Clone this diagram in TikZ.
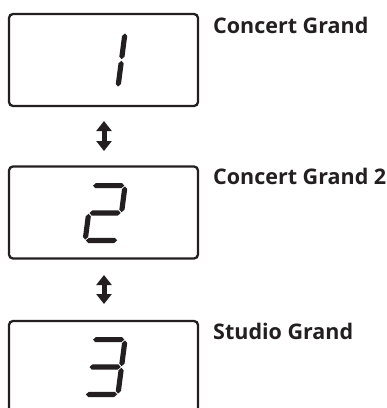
\documentclass[tikz,border=0pt]{standalone}
\usepackage{fontspec}
\setmainfont{Open Sans}
\usetikzlibrary{arrows.meta}
\definecolor{ink}{HTML}{231F20}
\newcommand\hsg[3]{\fill[ink] (#2,#1) -- ({#2+2.6},{#1-2.6}) -- ({#3-2.6},{#1-2.6}) -- (#3,#1) -- ({#3-2.6},{#1+2.6}) -- ({#2+2.6},{#1+2.6}) -- cycle;}
\newcommand\vsg[3]{\fill[ink] (#1,#2) -- ({#1+2.6},{#2+2.6}) -- ({#1+2.6},{#3-2.6}) -- (#1,#3) -- ({#1-2.6},{#3-2.6}) -- ({#1-2.6},{#2+2.6}) -- cycle;}
% segments of a 7-segment digit, W=38, H=60
\newcommand\sgA{\hsg{2.6}{3.4}{34.6}}
\newcommand\sgB{\vsg{35.4}{3.4}{29.2}}
\newcommand\sgC{\vsg{35.4}{30.8}{56.6}}
\newcommand\sgD{\hsg{57.4}{3.4}{34.6}}
\newcommand\sgE{\vsg{2.6}{30.8}{56.6}}
\newcommand\sgG{\hsg{30}{3.4}{34.6}}
\begin{document}
\begin{tikzpicture}[x=1pt,y=-1pt,
  box/.style={draw=ink,line width=2.3pt,rounded corners=4pt,minimum width=189pt,minimum height=92pt,inner sep=0pt},
  lbl/.style={anchor=base west,inner sep=0pt,text=ink,font=\fontsize{21.5}{21.5}\selectfont\bfseries},
  dblarrow/.style={draw=ink,line width=5pt,{Triangle[length=10pt,width=15pt]}-{Triangle[length=10pt,width=15pt]}},
  digit/.style={xslant=0.13}]
\useasboundingbox (0,0) rectangle (387,408);
\node[box] (b1) at (103.5,60) {};
\node[box] (b2) at (103.5,212.5) {};
\node[box] (b3) at (103.5,367) {};
\node[lbl] (t1) at (213,33) {Concert Grand};
\node[lbl] (t2) at (213,184) {Concert Grand 2};
\node[lbl] (t3) at (213,339) {Studio Grand};
\coordinate (a1t) at (104,121);
\coordinate (a1b) at (104,151);
\coordinate (a2t) at (104,275);
\coordinate (a2b) at (104,304);
\draw[dblarrow] (a1t) -- (a1b);
\draw[dblarrow] (a2t) -- (a2b);
\begin{scope}[shift={(90,30)},digit]
\sgB \sgC
\end{scope}
\begin{scope}[shift={(90,183)},digit]
\sgA \sgB \sgG \sgE \sgD
\end{scope}
\begin{scope}[shift={(90,337)},digit]
\sgA \sgB \sgG \sgC \sgD
\end{scope}
\end{tikzpicture}
\end{document}
